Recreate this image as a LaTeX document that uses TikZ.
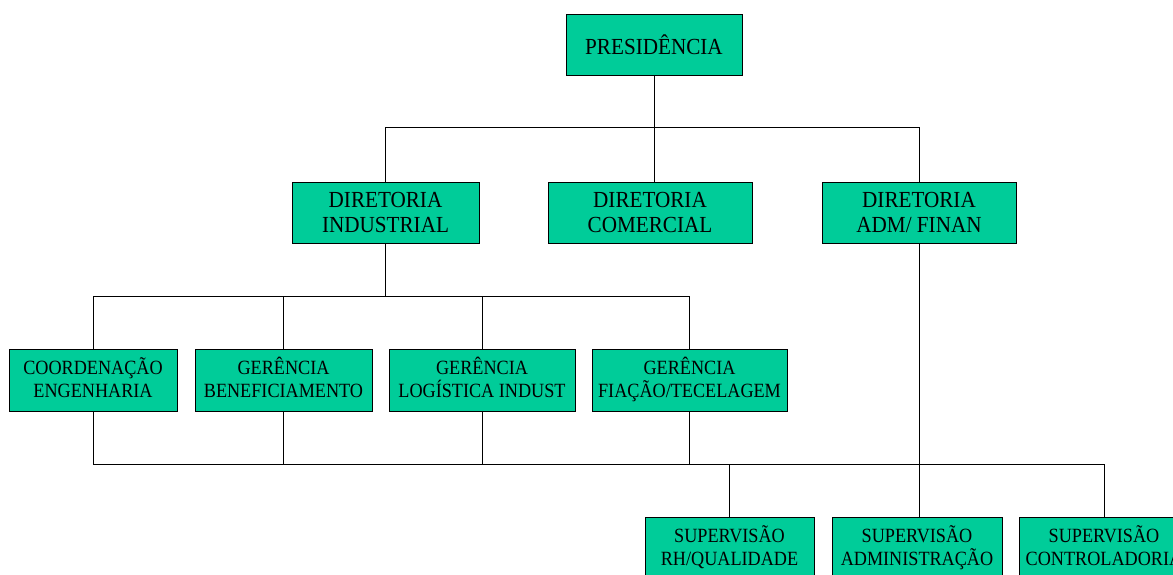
\documentclass[tikz,border=0pt]{standalone}
\usepackage{fontspec}
\setmainfont{Liberation Serif}
\newfontfamily\fontestreita[FakeStretch=0.92]{Liberation Serif}
\newfontfamily\fontestreitb[FakeStretch=0.9]{Liberation Serif}
\usepackage{xcolor}
\usetikzlibrary{positioning}
\definecolor{verdeorg}{RGB}{0,204,153}

\begin{document}
\begin{tikzpicture}[x=1pt, y=-1pt,
        cargo/.style={draw, rectangle, fill=verdeorg, align=center, inner sep=0pt, line width=0.8pt, minimum height=61pt},
        cargogrande/.style={cargo, font=\fontestreita\fontsize{23}{25}\selectfont},
        cargopequeno/.style={cargo, minimum height=62pt, text depth=5pt, font=\fontestreitb\fontsize{20.2}{22.5}\selectfont},
        linha/.style={line width=0.9pt}]
            \useasboundingbox (0,0) rectangle (1173,574);
            \clip (0,0) rectangle (1173,574);

            \node[cargogrande, minimum width=176pt] (pres) at (654,44.5) {PRESIDÊNCIA};

            \node[cargogrande, minimum width=187pt] (dind) at (385.5,212.5) {DIRETORIA\\INDUSTRIAL};
            \node[cargogrande, minimum width=204pt] (dcom) at (650,212.5) {DIRETORIA\\COMERCIAL};
            \node[cargogrande, minimum width=194pt] (dadm) at (919,212.5) {DIRETORIA\\ADM/ FINAN};

            \node[cargopequeno, minimum width=168pt] (coord) at (93,380) {COORDENAÇÃO\\ENGENHARIA};
            \node[cargopequeno, minimum width=177pt] (gben) at (283.5,380) {GERÊNCIA\\BENEFICIAMENTO};
            \node[cargopequeno, minimum width=186pt] (glog) at (482,380) {GERÊNCIA\\LOGÍSTICA INDUST};
            \node[cargopequeno, minimum width=195pt] (gfia) at (689.5,380) {GERÊNCIA\\FIAÇÃO/TECELAGEM};

            \node[cargopequeno, minimum width=169pt] (srh) at (729.5,548) {SUPERVISÃO\\RH/QUALIDADE};
            \node[cargopequeno, minimum width=170pt] (sadm) at (917,548) {SUPERVISÃO\\ADMINISTRAÇÃO};
            \node[cargopequeno, minimum width=170pt] (sctl) at (1104,548) {SUPERVISÃO\\CONTROLADORIA};

            % presidencia -> diretorias
            \draw[linha] (pres.south) -- (pres.south |- dcom.north);
            \draw[linha] (dind.north) -- ++(0,-54) -| (dadm.north);

            % diretoria industrial -> gerencias
            \draw[linha] (dind.south) -- ++(0,53) coordinate (bus1);
            \draw[linha] (coord.north) |- (bus1) -| (gfia.north);
            \draw[linha] (gben.north) -- (gben.north |- bus1);
            \draw[linha] (glog.north) -- (glog.north |- bus1);

            % gerencias -> supervisoes
            \draw[linha] (coord.south) -- ++(0,53) coordinate (bus2) -| (sctl.north);
            \draw[linha] (gben.south) -- (gben.south |- bus2);
            \draw[linha] (glog.south) -- (glog.south |- bus2);
            \draw[linha] (gfia.south) -- (gfia.south |- bus2);
            \draw[linha] (srh.north) -- (srh.north |- bus2);
            \draw[linha] (dadm.south) -- (dadm.south |- sadm.north);
        \end{tikzpicture}
\end{document}
